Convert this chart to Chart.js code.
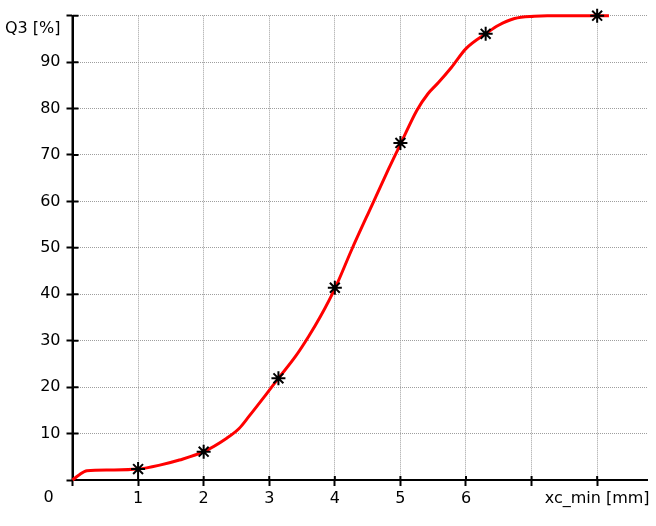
<!DOCTYPE html>
<html>
<head>
<meta charset="utf-8">
<script src="https://cdn.jsdelivr.net/npm/chart.js@4/dist/chart.umd.min.js"></script>
<style>
  html, body { margin: 0; padding: 0; background: #fff; }
  #wrap { width: 656px; height: 526px; }
</style>
</head>
<body>
<div id="wrap"><canvas id="c" width="656" height="526"></canvas></div>
<script>
// Curve
const curveX = [0, 0.1, 0.22, 0.57, 1.0, 1.33, 1.63, 2.0, 2.34, 2.54, 2.69, 2.95, 3.14, 3.40, 3.60, 3.78, 4.01, 4.26, 4.56, 4.82, 5.01, 5.25, 5.42, 5.58, 5.78, 6.0, 6.31, 6.49, 6.74, 7.04, 7.24, 8.18];
const curveY = [0, 1.1, 2.0, 2.15, 2.35, 3.2, 4.3, 6.1, 8.9, 11.1, 13.7, 18.4, 21.9, 26.6, 30.9, 35.2, 41.5, 49.7, 59.0, 67.0, 72.6, 79.6, 83.2, 85.6, 88.9, 92.9, 96.2, 97.9, 99.4, 99.9, 100, 100];
// Measured points (stars)
const markX = [1, 2, 3.14, 4.0, 5.0, 6.3, 8.0];
const markY = [2.35, 6.1, 21.9, 41.4, 72.6, 96.1, 100];
// Tick values and axis labels
const xTickValues = [0, 1, 2, 3, 4, 5, 6, 7, 8];
const xTitle = 'xc_min [mm]';
const yTitle = 'Q3 [%]';
const originLabel = '0';

const FONT = { family: 'DejaVu Sans', size: 16 };
const TITLE_FONT = { family: 'DejaVu Sans', size: 16, lineHeight: 1.6 };
const GRID_DASH = [1, 1];

const curve = curveX.map((x, i) => ({ x, y: curveY[i] }));
const marks = markX.map((x, i) => ({ x, y: markY[i] }));

const extras = {
  id: 'extras',
  beforeDatasetsDraw(chart) {
    const ctx = chart.ctx;
    const xs = chart.scales.x, ys = chart.scales.y;
    const a = chart.chartArea;
    ctx.save();
    ctx.strokeStyle = '#000';
    ctx.lineWidth = 2;
    ctx.setLineDash([]);
    ctx.beginPath();
    // solid axis lines
    ctx.moveTo(a.left, a.top); ctx.lineTo(a.left, a.bottom);
    ctx.moveTo(a.left, a.bottom); ctx.lineTo(a.right, a.bottom);
    // inner parts of the crossing ticks
    ys.ticks.forEach(t => {
      const py = ys.getPixelForValue(t.value);
      ctx.moveTo(a.left, py); ctx.lineTo(a.left + 6, py);
    });
    xs.ticks.forEach(t => {
      const px = xs.getPixelForValue(t.value);
      ctx.moveTo(px, a.bottom); ctx.lineTo(px, a.bottom - 4);
    });
    ctx.stroke();
    ctx.restore();
  },
  afterDraw(chart) {
    const ctx = chart.ctx;
    const a = chart.chartArea;
    ctx.save();
    ctx.fillStyle = '#000';
    ctx.font = FONT.size + 'px "' + FONT.family + '"';
    ctx.textAlign = 'center';
    ctx.textBaseline = 'middle';
    ctx.fillText(originLabel, a.left - 24, a.bottom + 18);
    ctx.restore();
  }
};

const gridOpts = {
  color: '#9e9e9e',
  lineWidth: 1,
  tickLength: 6,
  tickColor: '#000',
  tickWidth: 2,
  tickBorderDash: []
};

new Chart(document.getElementById('c'), {
  type: 'scatter',
  data: {
    datasets: [
      {
        data: marks,
        showLine: false,
        pointStyle: 'star',
        pointRadius: 7,
        pointBorderWidth: 2,
        pointBorderColor: '#000',
        pointBackgroundColor: '#000',
        clip: false
      },
      {
        data: curve,
        showLine: true,
        borderColor: '#ff0000',
        borderWidth: 3,
        pointRadius: 0,
        cubicInterpolationMode: 'monotone',
        fill: false,
        clip: false
      }
    ]
  },
  options: {
    responsive: false,
    animation: false,
    layout: { padding: { top: 15.7, right: 6, left: 0, bottom: 0 } },
    plugins: { legend: { display: false }, tooltip: { enabled: false } },
    scales: {
      x: {
        type: 'linear',
        min: 0,
        max: 8.76,
        afterBuildTicks(scale) {
          scale.ticks = xTickValues.map(v => ({ value: v }));
        },
        afterFit(scale) {
          scale.height = 46;
          scale.paddingLeft = 0; scale.paddingRight = 0;
        },
        ticks: {
          autoSkip: false,
          maxRotation: 0,
          padding: 3,
          color: '#000',
          font: FONT,
          callback(v) {
            if (v === 0 || v === 7) return '';
            if (v === 8) return xTitle;
            return String(v);
          }
        },
        grid: gridOpts,
        border: { display: true, color: '#000', width: 2, dash: GRID_DASH }
      },
      y: {
        type: 'linear',
        min: 0,
        max: 100,
        afterFit(scale) {
          scale.width = 72.5;
          scale.paddingTop = 0; scale.paddingBottom = 0;
        },
        ticks: {
          stepSize: 10,
          autoSkip: false,
          padding: 6,
          color: '#000',
          font: (c) => (c.tick && c.tick.value === 100 ? TITLE_FONT : FONT),
          callback(v) {
            if (v === 100) return ['', yTitle];
            if (v === 0) return '';
            return String(v);
          }
        },
        grid: gridOpts,
        border: { display: true, color: '#000', width: 2, dash: GRID_DASH }
      }
    }
  },
  plugins: [extras]
});
</script>
</body>
</html>
